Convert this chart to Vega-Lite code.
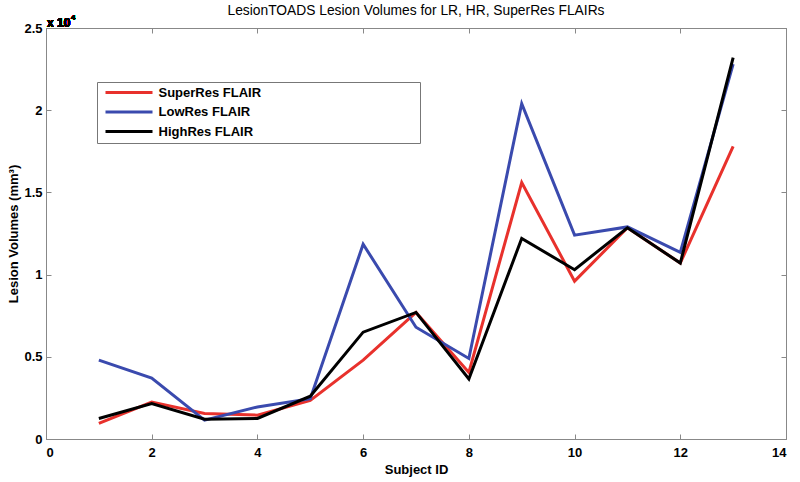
{
  "$schema": "https://vega.github.io/schema/vega-lite/v6.json",
  "width": 740,
  "height": 411,
  "autosize": {"type": "none"},
  "padding": {"left": 46, "top": 28, "right": 14, "bottom": 43},
  "background": "white",
  "title": {
    "text": "LesionTOADS Lesion Volumes for LR, HR, SuperRes FLAIRs",
    "font": "Liberation Sans",
    "fontSize": 13.8,
    "fontWeight": "normal",
    "color": "black",
    "offset": -4,
    "anchor": "middle"
  },
  "config": {
    "view": {"stroke": "#888888", "strokeWidth": 1},
    "font": "Liberation Sans",
    "axis": {
      "grid": false,
      "domainColor": "#888888",
      "tickColor": "#888888",
      "labelFont": "Liberation Sans",
      "labelFontSize": 13,
      "labelFontWeight": "bold",
      "labelColor": "black",
      "titleFont": "Liberation Sans",
      "titleFontSize": 13,
      "titleFontWeight": "bold",
      "titleColor": "black"
    }
  },
  "data": {
    "values": [
      {"subject": 1, "series": "SuperRes FLAIR", "volume": 950},
      {"subject": 2, "series": "SuperRes FLAIR", "volume": 2250},
      {"subject": 3, "series": "SuperRes FLAIR", "volume": 1550},
      {"subject": 4, "series": "SuperRes FLAIR", "volume": 1450},
      {"subject": 5, "series": "SuperRes FLAIR", "volume": 2350},
      {"subject": 6, "series": "SuperRes FLAIR", "volume": 4800},
      {"subject": 7, "series": "SuperRes FLAIR", "volume": 7700},
      {"subject": 8, "series": "SuperRes FLAIR", "volume": 4050},
      {"subject": 9, "series": "SuperRes FLAIR", "volume": 15600},
      {"subject": 10, "series": "SuperRes FLAIR", "volume": 9600},
      {"subject": 11, "series": "SuperRes FLAIR", "volume": 12850},
      {"subject": 12, "series": "SuperRes FLAIR", "volume": 10700},
      {"subject": 13, "series": "SuperRes FLAIR", "volume": 17800},
      {"subject": 1, "series": "LowRes FLAIR", "volume": 4800},
      {"subject": 2, "series": "LowRes FLAIR", "volume": 3700},
      {"subject": 3, "series": "LowRes FLAIR", "volume": 1150},
      {"subject": 4, "series": "LowRes FLAIR", "volume": 1950},
      {"subject": 5, "series": "LowRes FLAIR", "volume": 2450},
      {"subject": 6, "series": "LowRes FLAIR", "volume": 11850},
      {"subject": 7, "series": "LowRes FLAIR", "volume": 6800},
      {"subject": 8, "series": "LowRes FLAIR", "volume": 4900},
      {"subject": 9, "series": "LowRes FLAIR", "volume": 20400},
      {"subject": 10, "series": "LowRes FLAIR", "volume": 12400},
      {"subject": 11, "series": "LowRes FLAIR", "volume": 12900},
      {"subject": 12, "series": "LowRes FLAIR", "volume": 11350},
      {"subject": 13, "series": "LowRes FLAIR", "volume": 22800},
      {"subject": 1, "series": "HighRes FLAIR", "volume": 1250},
      {"subject": 2, "series": "HighRes FLAIR", "volume": 2150},
      {"subject": 3, "series": "HighRes FLAIR", "volume": 1200},
      {"subject": 4, "series": "HighRes FLAIR", "volume": 1250},
      {"subject": 5, "series": "HighRes FLAIR", "volume": 2600},
      {"subject": 6, "series": "HighRes FLAIR", "volume": 6500},
      {"subject": 7, "series": "HighRes FLAIR", "volume": 7700},
      {"subject": 8, "series": "HighRes FLAIR", "volume": 3650},
      {"subject": 9, "series": "HighRes FLAIR", "volume": 12200},
      {"subject": 10, "series": "HighRes FLAIR", "volume": 10300},
      {"subject": 11, "series": "HighRes FLAIR", "volume": 12850},
      {"subject": 12, "series": "HighRes FLAIR", "volume": 10700},
      {"subject": 13, "series": "HighRes FLAIR", "volume": 23200}
    ]
  },
  "layer": [
    {
      "mark": {"type": "line", "strokeWidth": 3, "clip": true},
      "encoding": {
        "x": {
          "field": "subject", "type": "quantitative",
          "scale": {"domain": [0, 14], "nice": false, "zero": false},
          "axis": {"title": "Subject ID", "values": [0, 2, 4, 6, 8, 10, 12, 14], "tickSize": -5, "labelPadding": 12, "titlePadding": 4, "format": "d"}
        },
        "y": {
          "field": "volume", "type": "quantitative",
          "scale": {"domain": [0, 25000], "nice": false},
          "axis": {"title": "Lesion Volumes (mm³)", "values": [0, 5000, 10000, 15000, 20000, 25000], "tickSize": -5, "labelPadding": 9, "titlePadding": 3, "labelExpr": "format(datum.value / 10000, '~g')"}
        },
        "color": {
          "field": "series", "type": "nominal",
          "scale": {"domain": ["SuperRes FLAIR", "LowRes FLAIR", "HighRes FLAIR"], "range": ["#e8312c", "#3a4aae", "#000000"]},
          "legend": {
            "title": "MMMMMMMMMMMMMMMMMM",
            "titleOrient": "right",
            "titleColor": "white",
            "titleFontSize": 10,
            "titleFontWeight": "normal",
            "titlePadding": 5,
            "orient": "none",
            "legendX": 51,
            "legendY": 54,
            "symbolType": "M-4.7,0H4.7",
            "symbolSize": 100,
            "symbolStrokeWidth": 3,
            "symbolOffset": 21.5,
            "strokeColor": "#777777",
            "fillColor": "white",
            "padding": 4,
            "rowPadding": 5.5,
            "labelFont": "Liberation Sans",
            "labelFontSize": 13,
            "labelFontWeight": "bold",
            "labelColor": "black",
            "labelAlign": "left",
            "labelOffset": 23,
            "labelLimit": 400,
            "labelExpr": "(datum.label == 'SuperRes FLAIR' ? '\u00a0' : '') + datum.label"
          }
        }
      }
    },
    {
      "mark": {"type": "line", "opacity": 0},
      "encoding": {
        "x": {"field": "subject", "type": "quantitative", "axis": {"orient": "top", "labels": false, "title": null, "values": [0, 2, 4, 6, 8, 10, 12, 14], "tickSize": -5}},
        "y": {"field": "volume", "type": "quantitative", "axis": {"orient": "right", "labels": false, "title": null, "values": [0, 5000, 10000, 15000, 20000, 25000], "tickSize": -5}}
      }
    },
    {
      "mark": {"type": "text", "align": "left", "baseline": "alphabetic", "dx": 1, "dy": -1, "font": "Liberation Sans", "fontSize": 12, "fontWeight": "bold"},
      "encoding": {
        "x": {"datum": 0, "type": "quantitative", "axis": null},
        "y": {"datum": 25000, "type": "quantitative", "axis": null},
        "text": {"value": "x 10"}
      }
    },
    {
      "mark": {"type": "text", "align": "left", "baseline": "alphabetic", "dx": 25, "dy": -8, "font": "Liberation Sans", "fontSize": 8, "fontWeight": "bold"},
      "encoding": {
        "x": {"datum": 0, "type": "quantitative", "axis": null},
        "y": {"datum": 25000, "type": "quantitative", "axis": null},
        "text": {"value": "4"}
      }
    }
  ],
  "resolve": {"axis": {"x": "independent", "y": "independent"}}
}
